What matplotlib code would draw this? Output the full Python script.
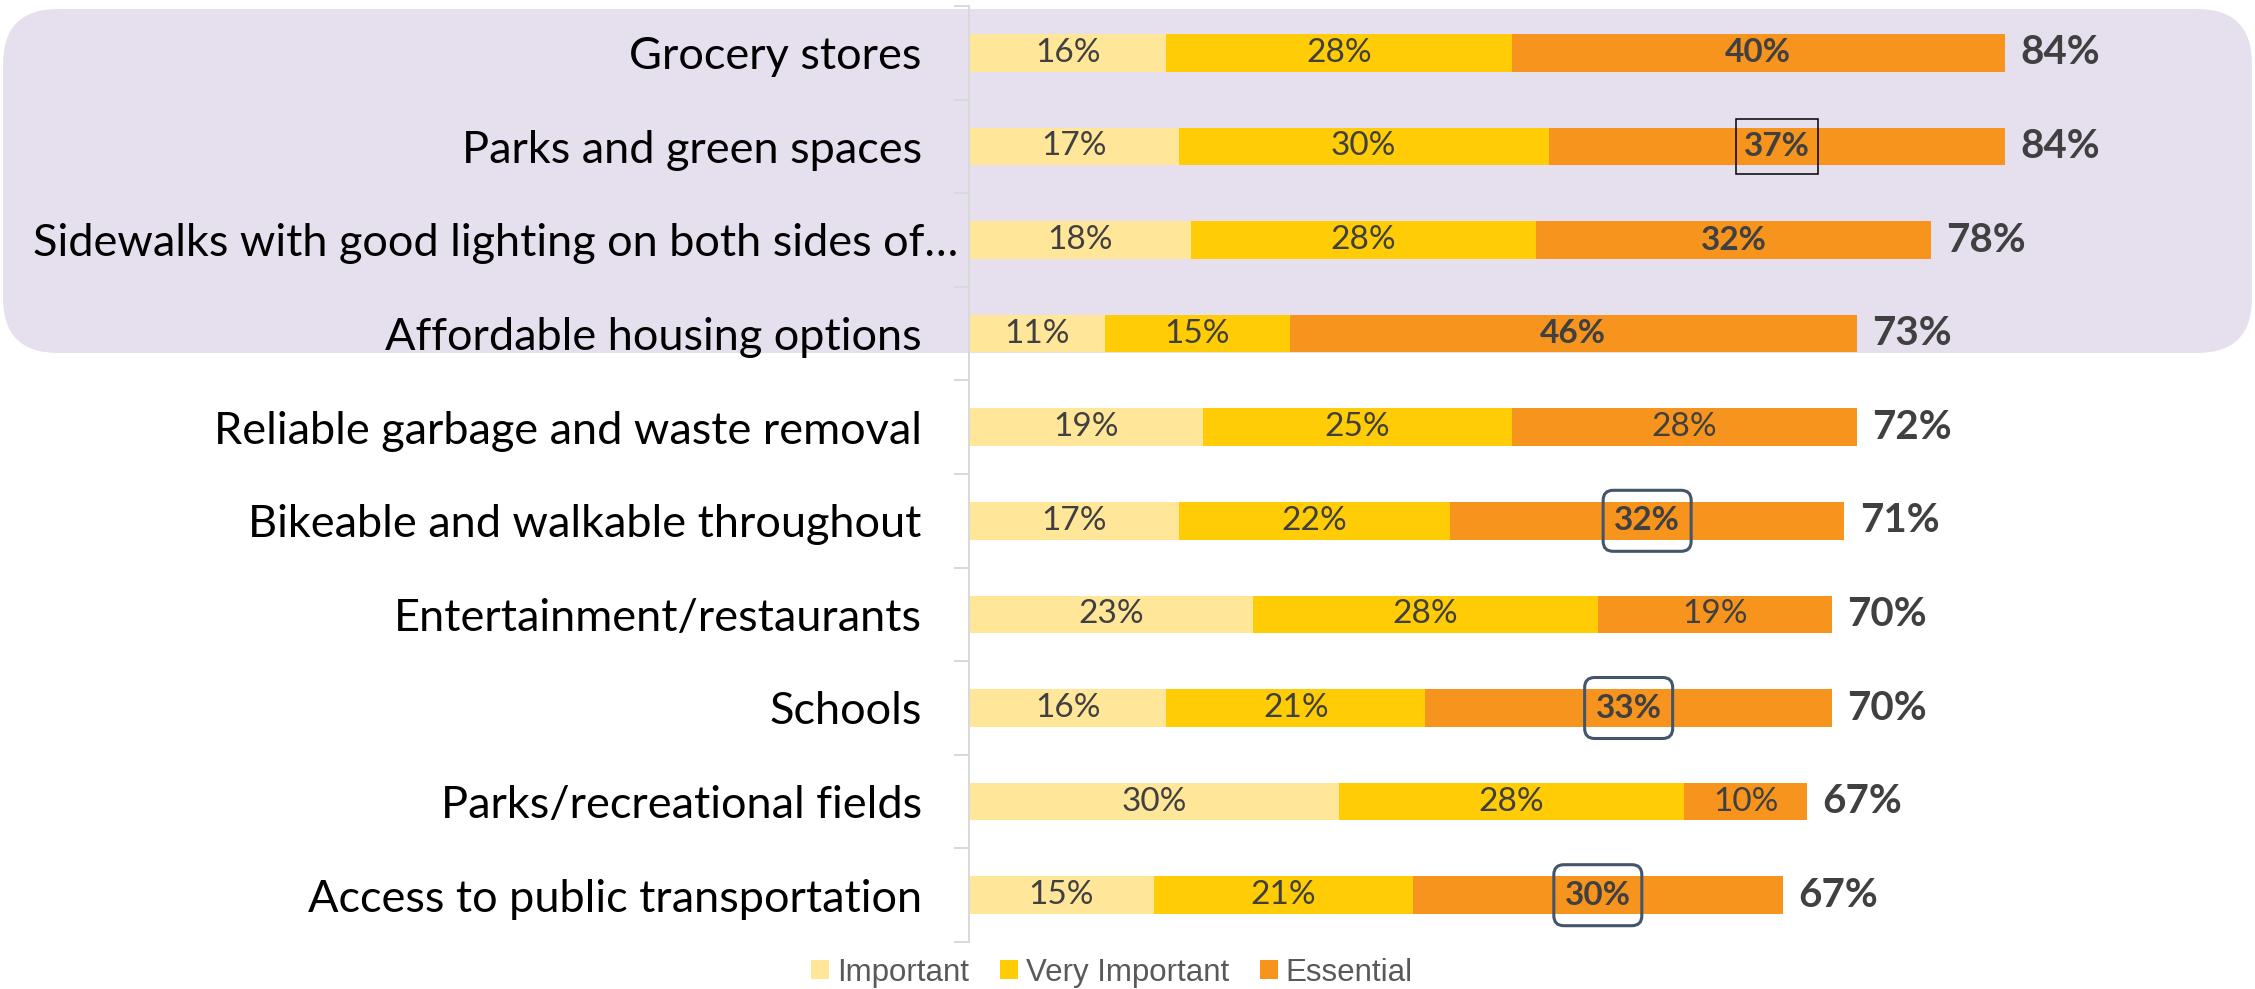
import numpy as np
import matplotlib.pyplot as plt
import matplotlib.transforms as mtransforms
from matplotlib.patches import FancyBboxPatch, Rectangle, Patch

categories = [
    "Grocery stores",
    "Parks and green spaces",
    "Sidewalks with good lighting on both sides of\u2026",
    "Affordable housing options",
    "Reliable garbage and waste removal",
    "Bikeable and walkable throughout",
    "Entertainment/restaurants",
    "Schools",
    "Parks/recreational fields",
    "Access to public transportation",
]
important = [16, 17, 18, 11, 19, 17, 23, 16, 30, 15]
very_important = [28, 30, 28, 15, 25, 22, 28, 21, 28, 21]
essential = [40, 37, 32, 46, 28, 32, 19, 33, 10, 30]
totals = [84, 84, 78, 73, 72, 71, 70, 70, 67, 67]
series_names = ["Important", "Very Important", "Essential"]

# rows in the shaded group, rows with a rounded callout, row with a plain box
shaded_rows = 4
callout_rows = [5, 7, 9]
boxed_row = 1

COLORS = ["#FFE699", "#FFCC05", "#F7941E"]
TEXT = "#404040"
AXIS_GRAY = "#D9D9D9"
LABEL_FONT = ["Lato", "DejaVu Sans"]

W, H, DPI = 2255, 989, 100
fig = plt.figure(figsize=(W / DPI, H / DPI), dpi=DPI)

# shaded background behind the first group of rows
fig.add_artist(FancyBboxPatch(
    (0.03, 6.36), 22.49, 3.44,
    boxstyle="round,pad=0,rounding_size=0.55",
    transform=fig.dpi_scale_trans, facecolor="#E6E0EE", edgecolor="none",
    zorder=-1))

ax = fig.add_axes([969 / W, 47 / H, 1233 / W, 936 / H])
ax.set_facecolor("none")

n = len(categories)
y = np.arange(n)
series = [important, very_important, essential]
left = np.zeros(n)
for vals, color in zip(series, COLORS):
    ax.barh(y, vals, left=left, height=0.4, color=color, edgecolor="none")
    left = left + np.array(vals)

ax.set_xlim(0, 100)
ax.set_ylim(n - 0.5, -0.5)

# pixel -> data conversion for sizing the callout boxes
px_x = 1233 / 100
px_y = 936 / n

for i in range(n):
    start = 0
    for s, vals in enumerate(series):
        v = vals[i]
        bold = s == 2 and (i < shaded_rows or i in callout_rows or i == boxed_row)
        ax.text(start + v / 2, i, f"{v}%", ha="center", va="center",
                fontsize=24, color=TEXT, family=LABEL_FONT,
                fontweight="bold" if bold else "normal")
        start += v
    ax.annotate(f"{totals[i]}%", xy=(start, i), xytext=(11, 0),
                textcoords="offset points", ha="left", va="center",
                fontsize=29, fontweight="bold", color=TEXT, family=LABEL_FONT)

    cx = important[i] + very_important[i] + essential[i] / 2
    if i == boxed_row:
        w, h = 82 / px_x, 55 / px_y
        ax.add_patch(Rectangle((cx - w / 2, i - h / 2), w, h, fill=False,
                               edgecolor="black", linewidth=1.1))
    if i in callout_rows:
        w, h = 88 / px_x, 61 / px_y
        ax.add_patch(FancyBboxPatch(
            (cx - w / 2, i - h / 2), w, h,
            boxstyle=f"round,pad=0,rounding_size={10 / px_x}",
            mutation_aspect=px_x / px_y, fill=False,
            edgecolor="#44546A", linewidth=2.2))

# axis: only the left spine with outward ticks between categories
for side in ["top", "right", "bottom"]:
    ax.spines[side].set_visible(False)
ax.spines["left"].set_color(AXIS_GRAY)
ax.spines["left"].set_linewidth(1.44)
ax.set_xticks([])
ax.set_yticks(y)
ax.set_yticklabels(categories, fontsize=32.5, family=LABEL_FONT, color="black")
ax.tick_params(axis="y", which="major", length=0, pad=34)
ax.set_yticks(np.arange(-0.5, n, 1), minor=True)
ax.tick_params(axis="y", which="minor", length=10.8, width=1.44,
               color=AXIS_GRAY)

# the truncated label runs further right than the others
lbl = ax.get_yticklabels()[2]
lbl.set_transform(lbl.get_transform() +
                  mtransforms.ScaledTranslation(0.36, 0, fig.dpi_scale_trans))

handles = [Patch(facecolor=c, edgecolor="none") for c in COLORS]
fig.legend(handles, series_names, loc="center",
           bbox_to_anchor=(1112 / W, 16 / H), ncol=3, frameon=False,
           prop={"family": ["Liberation Sans", "DejaVu Sans"], "size": 22.5},
           labelcolor="#595959", handlelength=0.56, handleheight=0.56,
           handletextpad=0.26, columnspacing=1.0, borderpad=0,
           borderaxespad=0)

fig.savefig("out.png", dpi=DPI)
